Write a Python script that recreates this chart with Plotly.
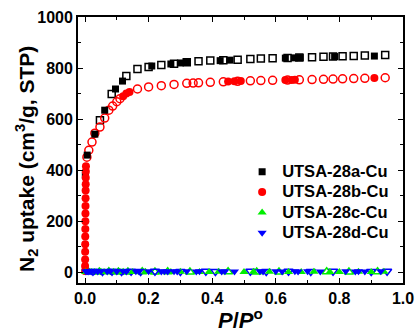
import plotly.graph_objects as go

# ---------------- data ----------------
# UTSA-28a-Cu (black squares)
a_ads_p = [0.001, 0.007, 0.031, 0.062, 0.096, 0.118, 0.21, 0.27, 0.30, 0.32, 0.425, 0.456, 0.63, 0.658, 0.677, 0.785, 0.91]
a_ads_v = [380, 459, 541, 635, 718, 749, 808, 816, 820, 823, 829, 831, 839, 840, 841, 845, 847]
a_des_p = [0.047, 0.084, 0.13, 0.165, 0.20, 0.24, 0.28, 0.32, 0.357, 0.394, 0.435, 0.48, 0.52, 0.553,
           0.59, 0.637, 0.674, 0.714, 0.75, 0.78, 0.81, 0.845, 0.88, 0.944]
a_des_v = [596, 698, 769, 796, 804, 812, 817, 823, 827, 830, 831, 833, 835, 837,
           838, 839, 841, 842, 844, 845, 846, 847, 849, 851]

# UTSA-28b-Cu (red circles)
b_ads_p = [0.0002, 0.0003, 0.0004, 0.0005, 0.0006, 0.0008, 0.001, 0.0012, 0.0014, 0.0016, 0.0018,
           0.002, 0.0022, 0.0024, 0.0026, 0.003, 0.12, 0.13, 0.14, 0.45, 0.47, 0.49, 0.63, 0.65, 0.66, 0.91]
b_ads_v = [5, 25, 50, 80, 110, 140, 170, 200, 230, 260, 290, 320, 345, 370, 395, 415, 690, 700, 706,
           747, 748, 749, 753, 753, 754, 761]
b_des_p = [0.006, 0.012, 0.022, 0.031, 0.047, 0.062, 0.075, 0.087, 0.1, 0.11, 0.165, 0.20, 0.24, 0.28,
           0.32, 0.34, 0.357, 0.394, 0.435, 0.48, 0.52, 0.553, 0.59, 0.637, 0.674, 0.714, 0.75,
           0.78, 0.81, 0.845, 0.88, 0.944]
b_des_v = [451, 478, 510, 545, 569, 604, 635, 651, 668, 680, 718, 726, 731, 736,
           740, 741, 742, 744, 746, 748, 750, 751, 752, 753, 754, 755, 756,
           757, 758, 759, 760, 762]

# UTSA-28c-Cu (green up-triangles)
c_ads_p = [0.002, 0.02, 0.03, 0.05, 0.06, 0.09, 0.11, 0.12, 0.15, 0.19, 0.27, 0.3, 0.36, 0.39, 0.42, 0.5,
           0.53, 0.58, 0.64, 0.68, 0.72, 0.77, 0.8, 0.86, 0.9, 0.94]
c_ads_v = [1, 1, 1, 2, 1, 2, 1, 2, 1, 2, 1, 2, 1, 1, 2, 1, 2, 2, 1, 1, 2, 1, 1, 2, 1, 2]
c_des_p = [0.01, 0.045, 0.075, 0.105, 0.135, 0.18, 0.22, 0.26, 0.33, 0.45, 0.54, 0.61, 0.76, 0.83, 0.92]
c_des_v = [2, 1, 2, 1, 1, 2, 1, 2, 1, 2, 1, 1, 2, 1, 2]

# UTSA-28d-Cu (blue down-triangles)
d_ads_p = [0.003, 0.008, 0.012, 0.016, 0.02, 0.03, 0.04, 0.05, 0.07, 0.08, 0.1, 0.12, 0.13, 0.16, 0.17,
           0.2, 0.24, 0.25, 0.26, 0.28, 0.29, 0.32, 0.35, 0.36, 0.43, 0.44, 0.47, 0.55, 0.56, 0.6, 0.62,
           0.66, 0.67, 0.7, 0.74, 0.82, 0.85, 0.86, 0.88, 0.93]
d_ads_v = [3, 4, 3, 4, 3, 4, 3, 4, 3, 4, 3, 4, 3, 4, 3, 4, 3, 4, 3, 4,
           3, 4, 3, 4, 3, 4, 3, 4, 3, 4, 3, 4, 3, 4, 3, 4, 3, 4, 3, 4]
d_des_p = [0.025, 0.055, 0.085, 0.115, 0.145, 0.175, 0.22, 0.3, 0.38, 0.41, 0.52, 0.57, 0.64, 0.71, 0.78, 0.9, 0.95]
d_des_v = [4, 3, 4, 3, 4, 3, 4, 3, 4, 3, 4, 3, 4, 3, 4, 3, 4]

names = ["UTSA-28a-Cu", "UTSA-28b-Cu", "UTSA-28c-Cu", "UTSA-28d-Cu"]
x_title = "<b><i>P</i>/<i>P</i><sup>o</sup></b>"
y_title = "<b>N<sub>2</sub> uptake (cm<sup>3</sup>/g, STP)</b>"

# ---------------- figure ----------------
fig = go.Figure()

def add(px, v, name, symbol, color, size, filled, legend):
    label = '<span style="font-size:16.5px">' + name + '</span>'
    fig.add_trace(go.Scatter(
        x=px, y=v, mode="markers", name=label, showlegend=legend,
        marker=dict(symbol=symbol if filled else symbol + "-open",
                    color=color, size=size,
                    line=dict(width=1.5 if not filled else 0, color=color)),
    ))

# draw order: green/blue first so black/red appear on top
add(c_des_p, c_des_v, names[2], "triangle-up", "#00ee00", 8, False, False)
add(d_des_p, d_des_v, names[3], "triangle-down", "#0000ff", 8, False, False)
add(a_des_p, a_des_v, names[0], "square", "#000000", 7, False, False)
add(b_des_p, b_des_v, names[1], "circle", "#ff0000", 8, False, False)
add(a_ads_p, a_ads_v, names[0], "square", "#000000", 7, True, True)
add(b_ads_p, b_ads_v, names[1], "circle", "#ff0000", 8, True, True)
add(c_ads_p, c_ads_v, names[2], "triangle-up", "#00ee00", 8, True, True)
add(d_ads_p, d_ads_v, names[3], "triangle-down", "#0000ff", 8, True, True)

font = "Arial, Liberation Sans, sans-serif"
axis_common = dict(
    showline=True, linewidth=1.8, linecolor="black", mirror="ticks",
    ticks="inside", ticklen=5, tickwidth=1.3, tickcolor="black",
    showgrid=False, zeroline=False, automargin=False,
    tickfont=dict(family=font, size=16, color="black", weight="bold"),
)

fig.update_xaxes(
    range=[-0.022, 1.0], tickmode="array",
    tickvals=[0.0, 0.2, 0.4, 0.6, 0.8, 1.0],
    ticktext=["0.0", "0.2", "0.4", "0.6", "0.8", "1.0"],
    minor=dict(tickmode="array", tickvals=[0.1, 0.3, 0.5, 0.7, 0.9],
               ticks="inside", ticklen=3, tickwidth=1.2, tickcolor="black"),
    title=dict(text=x_title, font=dict(family=font, size=22, color="black"), standoff=7),
    **axis_common,
)
fig.update_yaxes(
    range=[-42, 1000], tickmode="array",
    tickvals=[0, 200, 400, 600, 800, 1000],
    minor=dict(tickmode="array", tickvals=[100, 300, 500, 700, 900],
               ticks="inside", ticklen=3, tickwidth=1.2, tickcolor="black"),
    **axis_common,
)

fig.add_annotation(
    text=y_title, textangle=-90, showarrow=False,
    xref="paper", yref="paper", x=-0.16, y=0.466,
    xanchor="center", yanchor="middle",
    font=dict(family=font, size=21, color="black"),
)

fig.update_layout(
    width=420, height=333,
    margin=dict(l=78, r=17, t=17, b=50),
    paper_bgcolor="white", plot_bgcolor="white",
    font=dict(family=font, color="black"),
    legend=dict(x=0.505, y=0.475, xanchor="left", yanchor="top",
                bgcolor="rgba(0,0,0,0)",
                itemsizing="trace",
                font=dict(family=font, size=13.3, color="black", weight="bold")),
)

fig.write_html("out.html", config={"displayModeBar": False},
               post_script="document.body.style.margin='0px';document.body.style.overflow='hidden';")
